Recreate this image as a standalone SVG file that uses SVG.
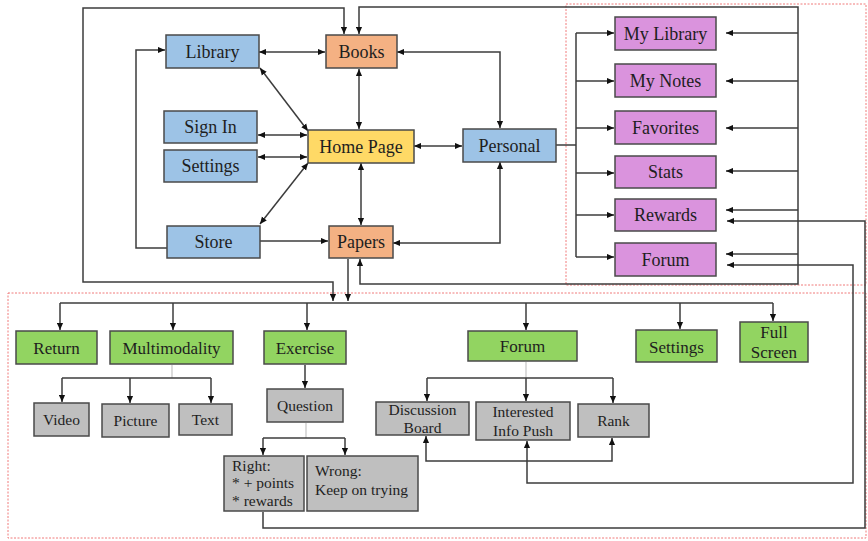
<svg xmlns="http://www.w3.org/2000/svg" width="868" height="541" viewBox="0 0 868 541">
<defs>
<style>
.n{stroke:#4a4a4a;stroke-width:1.5}
.blue{fill:#9DC3E6}.orange{fill:#F4B183}.yellow{fill:#FFD966}.purple{fill:#DA93DD}.green{fill:#92D461}.gray{fill:#BFBFBF}
text{font-family:"Liberation Serif","Times New Roman",serif;fill:#1e1e1e;text-anchor:middle}
.t18{font-size:18px}.t17{font-size:17px}.t16{font-size:15.5px}
.l{text-anchor:start}
.c path{fill:none;stroke:#3c3c3c;stroke-width:1.5}
.c path.lt{stroke:#c4c4c4;stroke-width:1.2}
.red{fill:none;stroke:#f07a7a;stroke-width:1;stroke-dasharray:2 1.5}
</style>
<marker id="a" viewBox="0 0 8 8" refX="8" refY="4" markerWidth="7" markerHeight="7" markerUnits="userSpaceOnUse" orient="auto-start-reverse"><path d="M0,0.5 L8,4 L0,7.5 z" fill="#111"/></marker>
</defs>
<rect width="868" height="541" fill="#fff"/>
<g id="frames">
<rect class="red" x="566" y="4" width="300" height="281"/>
<rect class="red" x="8" y="293" width="858" height="245"/>
</g>
<g class="c" id="connectors">
<path d="M259,52 H325" marker-start="url(#a)" marker-end="url(#a)"/>
<path d="M260,68 L308,131" marker-start="url(#a)" marker-end="url(#a)"/>
<path d="M258,135 H307" marker-start="url(#a)" marker-end="url(#a)"/>
<path d="M258,157 H307" marker-start="url(#a)" marker-end="url(#a)"/>
<path d="M260,224 L308,163" marker-start="url(#a)" marker-end="url(#a)"/>
<path d="M259,241 H328" marker-end="url(#a)"/>
<path d="M167,248 H136 V50 H165" marker-end="url(#a)"/>
<path d="M359,69 V129" marker-start="url(#a)" marker-end="url(#a)"/>
<path d="M361,163 V225" marker-start="url(#a)" marker-end="url(#a)"/>
<path d="M414,146 H462" marker-start="url(#a)" marker-end="url(#a)"/>
<path d="M397,52 H500 V128" marker-start="url(#a)" marker-end="url(#a)"/>
<path d="M393,243 H500 V162" marker-start="url(#a)" marker-end="url(#a)"/>
<path d="M556,145 H576"/>
<path d="M576,33 V257"/>
<path d="M576,33 H614" marker-end="url(#a)"/>
<path d="M576,81 H614" marker-end="url(#a)"/>
<path d="M576,128 H614" marker-end="url(#a)"/>
<path d="M576,173 H614" marker-end="url(#a)"/>
<path d="M576,215 H614" marker-end="url(#a)"/>
<path d="M576,257 H614" marker-end="url(#a)"/>
<path d="M359,34 V7 H798 V284 H360 V259" marker-start="url(#a)" marker-end="url(#a)"/>
<path d="M798,33 H726" marker-end="url(#a)"/>
<path d="M798,81 H726" marker-end="url(#a)"/>
<path d="M798,128 H726" marker-end="url(#a)"/>
<path d="M798,171 H726" marker-end="url(#a)"/>
<path d="M798,210 H726" marker-end="url(#a)"/>
<path d="M798,254 H726" marker-end="url(#a)"/>
<path d="M344,34 V8 H83 V282 H333 V301" marker-start="url(#a)" marker-end="url(#a)"/>
<path d="M348,259 V301" marker-end="url(#a)"/>
<path d="M60,303 H773"/>
<path d="M60,303 V330" marker-end="url(#a)"/>
<path d="M173,303 V330" marker-end="url(#a)"/>
<path d="M307,303 V330" marker-end="url(#a)"/>
<path d="M526,303 V330" marker-end="url(#a)"/>
<path d="M680,303 V329" marker-end="url(#a)"/>
<path d="M773,303 V321" marker-end="url(#a)"/>
<path class="lt" d="M172,365 V378"/>
<path d="M62,378 H211"/>
<path d="M62,378 V402" marker-end="url(#a)"/>
<path d="M130,378 V403" marker-end="url(#a)"/>
<path d="M211,378 V403" marker-end="url(#a)"/>
<path d="M305,365 V388" marker-end="url(#a)"/>
<path class="lt" d="M306,423 V438"/>
<path d="M263,438 H345"/>
<path d="M263,438 V455" marker-end="url(#a)"/>
<path d="M345,438 V455" marker-end="url(#a)"/>
<path class="lt" d="M526,362 V378"/>
<path d="M427,378 H613"/>
<path d="M427,378 V401" marker-end="url(#a)"/>
<path d="M526,378 V401" marker-end="url(#a)"/>
<path d="M613,378 V403" marker-end="url(#a)"/>
<path d="M426,436 V461 H612 V438" marker-start="url(#a)" marker-end="url(#a)"/>
<path d="M527,441 V483 H853 V265 H727" marker-start="url(#a)" marker-end="url(#a)"/>
<path d="M263,512 V528 H865 V221 H727" marker-end="url(#a)"/>
</g>
<g id="library"><rect class="n blue" x="166" y="35" width="93" height="33"/><text class="t18" x="212.5" y="58">Library</text></g>
<g id="books"><rect class="n orange" x="326" y="35" width="71" height="33"/><text class="t18" x="361.5" y="58">Books</text></g>
<g id="signin"><rect class="n blue" x="164" y="111" width="93" height="32"/><text class="t18" x="210.5" y="133">Sign In</text></g>
<g id="settings-top"><rect class="n blue" x="164" y="150" width="93" height="32"/><text class="t18" x="210.5" y="172">Settings</text></g>
<g id="homepage"><rect class="n yellow" x="308" y="130" width="106" height="33"/><text class="t18" x="361" y="153">Home Page</text></g>
<g id="personal"><rect class="n blue" x="463" y="129" width="93" height="33"/><text class="t18" x="509.5" y="152">Personal</text></g>
<g id="store"><rect class="n blue" x="167" y="226" width="93" height="32"/><text class="t18" x="213.5" y="248">Store</text></g>
<g id="papers"><rect class="n orange" x="329" y="226" width="64" height="32"/><text class="t18" x="361" y="248">Papers</text></g>
<g id="mylibrary"><rect class="n purple" x="615" y="17" width="101" height="33"/><text class="t18" x="665.5" y="40">My Library</text></g>
<g id="mynotes"><rect class="n purple" x="615" y="64" width="101" height="33"/><text class="t18" x="665.5" y="87">My Notes</text></g>
<g id="favorites"><rect class="n purple" x="615" y="111" width="101" height="33"/><text class="t18" x="665.5" y="134">Favorites</text></g>
<g id="stats"><rect class="n purple" x="615" y="156" width="101" height="32"/><text class="t18" x="665.5" y="178">Stats</text></g>
<g id="rewards"><rect class="n purple" x="615" y="199" width="101" height="32"/><text class="t18" x="665.5" y="221">Rewards</text></g>
<g id="forum-p"><rect class="n purple" x="615" y="243" width="101" height="33"/><text class="t18" x="665.5" y="266">Forum</text></g>
<g id="return"><rect class="n green" x="16" y="331" width="81" height="33"/><text class="t17" x="56.5" y="354">Return</text></g>
<g id="multimodality"><rect class="n green" x="110" y="331" width="123" height="33"/><text class="t17" x="171.5" y="354">Multimodality</text></g>
<g id="exercise"><rect class="n green" x="264" y="331" width="82" height="33"/><text class="t17" x="305" y="354">Exercise</text></g>
<g id="forum-g"><rect class="n green" x="468" y="331" width="109" height="30"/><text class="t17" x="522.5" y="352">Forum</text></g>
<g id="settings-g"><rect class="n green" x="636" y="330" width="81" height="32"/><text class="t17" x="676.5" y="353">Settings</text></g>
<g id="fullscreen"><rect class="n green" x="740" y="322" width="68" height="40"/><text class="t17" x="774" y="338">Full</text><text class="t17" x="774" y="358">Screen</text></g>
<g id="video"><rect class="n gray" x="34" y="403" width="55" height="33"/><text class="t16" x="61.5" y="425">Video</text></g>
<g id="picture"><rect class="n gray" x="102" y="404" width="67" height="33"/><text class="t16" x="135.5" y="426">Picture</text></g>
<g id="text"><rect class="n gray" x="179" y="404" width="53" height="31"/><text class="t16" x="205.5" y="425">Text</text></g>
<g id="question"><rect class="n gray" x="267" y="389" width="76" height="33"/><text class="t16" x="305" y="411">Question</text></g>
<g id="discussion"><rect class="n gray" x="376" y="402" width="93" height="33"/><text class="t16" x="422.5" y="415">Discussion</text><text class="t16" x="422.5" y="433">Board</text></g>
<g id="infopush"><rect class="n gray" x="476" y="402" width="94" height="38"/><text class="t16" x="523" y="417">Interested</text><text class="t16" x="523" y="436">Info Push</text></g>
<g id="rank"><rect class="n gray" x="578" y="404" width="71" height="33"/><text class="t16" x="613.5" y="426">Rank</text></g>
<g id="right"><rect class="n gray" x="224" y="456" width="80" height="55"/><text class="t16 l" x="232" y="471">Right:</text><text class="t16 l" x="232" y="488">* + points</text><text class="t16 l" x="232" y="506">* rewards</text></g>
<g id="wrong"><rect class="n gray" x="307" y="456" width="111" height="55"/><text class="t16 l" x="315" y="476">Wrong:</text><text class="t16 l" x="315" y="495">Keep on trying</text></g>
</svg>
